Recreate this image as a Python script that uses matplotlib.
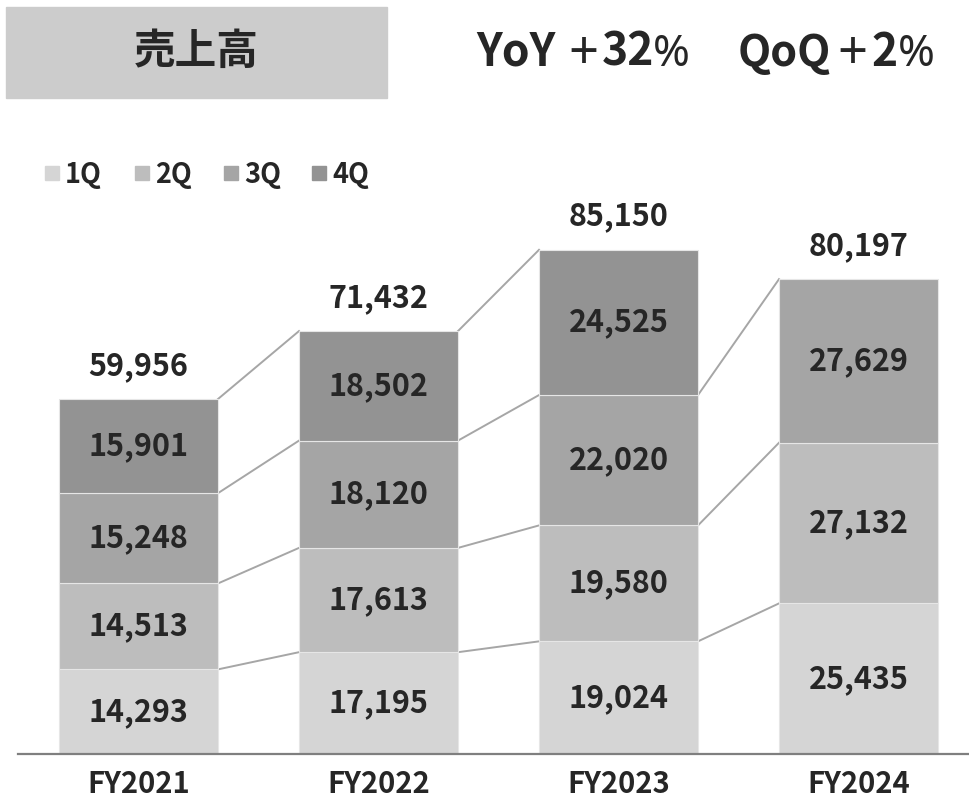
import matplotlib
matplotlib.use("Agg")
import matplotlib.pyplot as plt
from matplotlib.patches import Rectangle

plt.rcParams['font.family'] = ['Noto Sans CJK JP', 'DejaVu Sans']

years = ['FY2021', 'FY2022', 'FY2023', 'FY2024']
quarters = ['1Q', '2Q', '3Q', '4Q']
q1 = [14293, 17195, 19024, 25435]
q2 = [14513, 17613, 19580, 27132]
q3 = [15248, 18120, 22020, 27629]
q4 = [15901, 18502, 24525, None]
totals = [59956, 71432, 85150, 80197]
title = '売上高'
yoy_pct = '32'
qoq_pct = '2'

colors = ['#d5d5d5', '#bdbdbd', '#a5a5a5', '#939393']
text_color = '#262626'
line_color = '#a6a6a6'

W, H = 969, 801
fig = plt.figure(figsize=(W / 100, H / 100), dpi=100)

# Title box
fig.patches.append(Rectangle((6 / W, 1 - 98 / H), 381 / W, 91 / H,
                             transform=fig.transFigure, color='#cccccc', zorder=0))
fig.text(196 / W, 1 - 52 / H, title, fontsize=30, fontweight='bold',
         color=text_color, ha='center', va='center')

# Growth headline: bold words/numbers, thin plus and percent signs
pieces = [
    ('YoY', 'bold', 476, 32, 66), ('+', 'normal', 568, 38, 69), (yoy_pct, 'bold', 602, 32, 66),
    ('%', 'normal', 653, 32, 66),
    ('QoQ', 'bold', 738, 31, 66), ('+', 'normal', 837, 38, 69), (qoq_pct, 'bold', 871, 32, 66),
    ('%', 'normal', 898, 32, 66),
]
for s, wgt, xp, fs, yb in pieces:
    fam = ['Noto Sans', 'DejaVu Sans'] if wgt == 'normal' else ['Noto Sans CJK JP', 'DejaVu Sans']
    fig.text(xp / W, 1 - yb / H, s, fontsize=fs, fontweight=wgt, family=fam,
             color=text_color, ha='left', va='baseline')

# Legend
leg_sq_x = [45, 135, 224, 312]
for qi, q in enumerate(quarters):
    x0 = leg_sq_x[qi]
    fig.patches.append(Rectangle((x0 / W, 1 - 180 / H), 14 / W, 14 / H,
                                 transform=fig.transFigure, color=colors[qi]))
    fig.text((x0 + 20) / W, 1 - 183 / H, q, fontsize=19.5, fontweight='bold',
             color=text_color, ha='left', va='baseline')

ax = fig.add_axes([18 / W, 47 / H, 951 / W, 604 / H])
px_per_unit = 355 / 59956
ax.set_ylim(0, 604 / px_per_unit)
ax.set_xlim((18 - 138.5) / 240, (969 - 138.5) / 240)

series = [q1, q2, q3, q4]
width = 159 / 240
xs = list(range(len(years)))
cums = []
for i in xs:
    bottom = 0
    c = []
    for qi, s in enumerate(series):
        v = s[i]
        if v is None:
            continue
        ax.bar(i, v, width=width, bottom=bottom, color=colors[qi],
               edgecolor='#e6e6e6', linewidth=0.8, zorder=2)
        ax.text(i, bottom + v / 2, f'{v:,}', ha='center', va='center',
                fontsize=22, fontweight='bold', color=text_color, zorder=4)
        bottom += v
        c.append(bottom)
    cums.append(c)
    ax.annotate(f'{totals[i]:,}', xy=(i, bottom), xytext=(0, 24),
                textcoords='offset points', ha='center', va='center',
                fontsize=22, fontweight='bold', color=text_color)
    ax.annotate(years[i], xy=(i, 0), xytext=(0, -28),
                textcoords='offset points', ha='center', va='baseline',
                fontsize=21, fontweight='bold', color=text_color,
                annotation_clip=False)

# Connector lines
for i in range(len(years) - 1):
    n = min(len(cums[i]), len(cums[i + 1]))
    for k in range(n):
        ax.plot([i + width / 2, i + 1 - width / 2], [cums[i][k], cums[i + 1][k]],
                color=line_color, linewidth=1.4, zorder=1)

for sp in ['top', 'right', 'left']:
    ax.spines[sp].set_visible(False)
ax.spines['bottom'].set_color('#7f7f7f')
ax.spines['bottom'].set_linewidth(1.6)
ax.spines['bottom'].set_zorder(5)
ax.set_xticks([])
ax.set_yticks([])
ax.patch.set_alpha(0)

fig.savefig('out.png', dpi=100)
